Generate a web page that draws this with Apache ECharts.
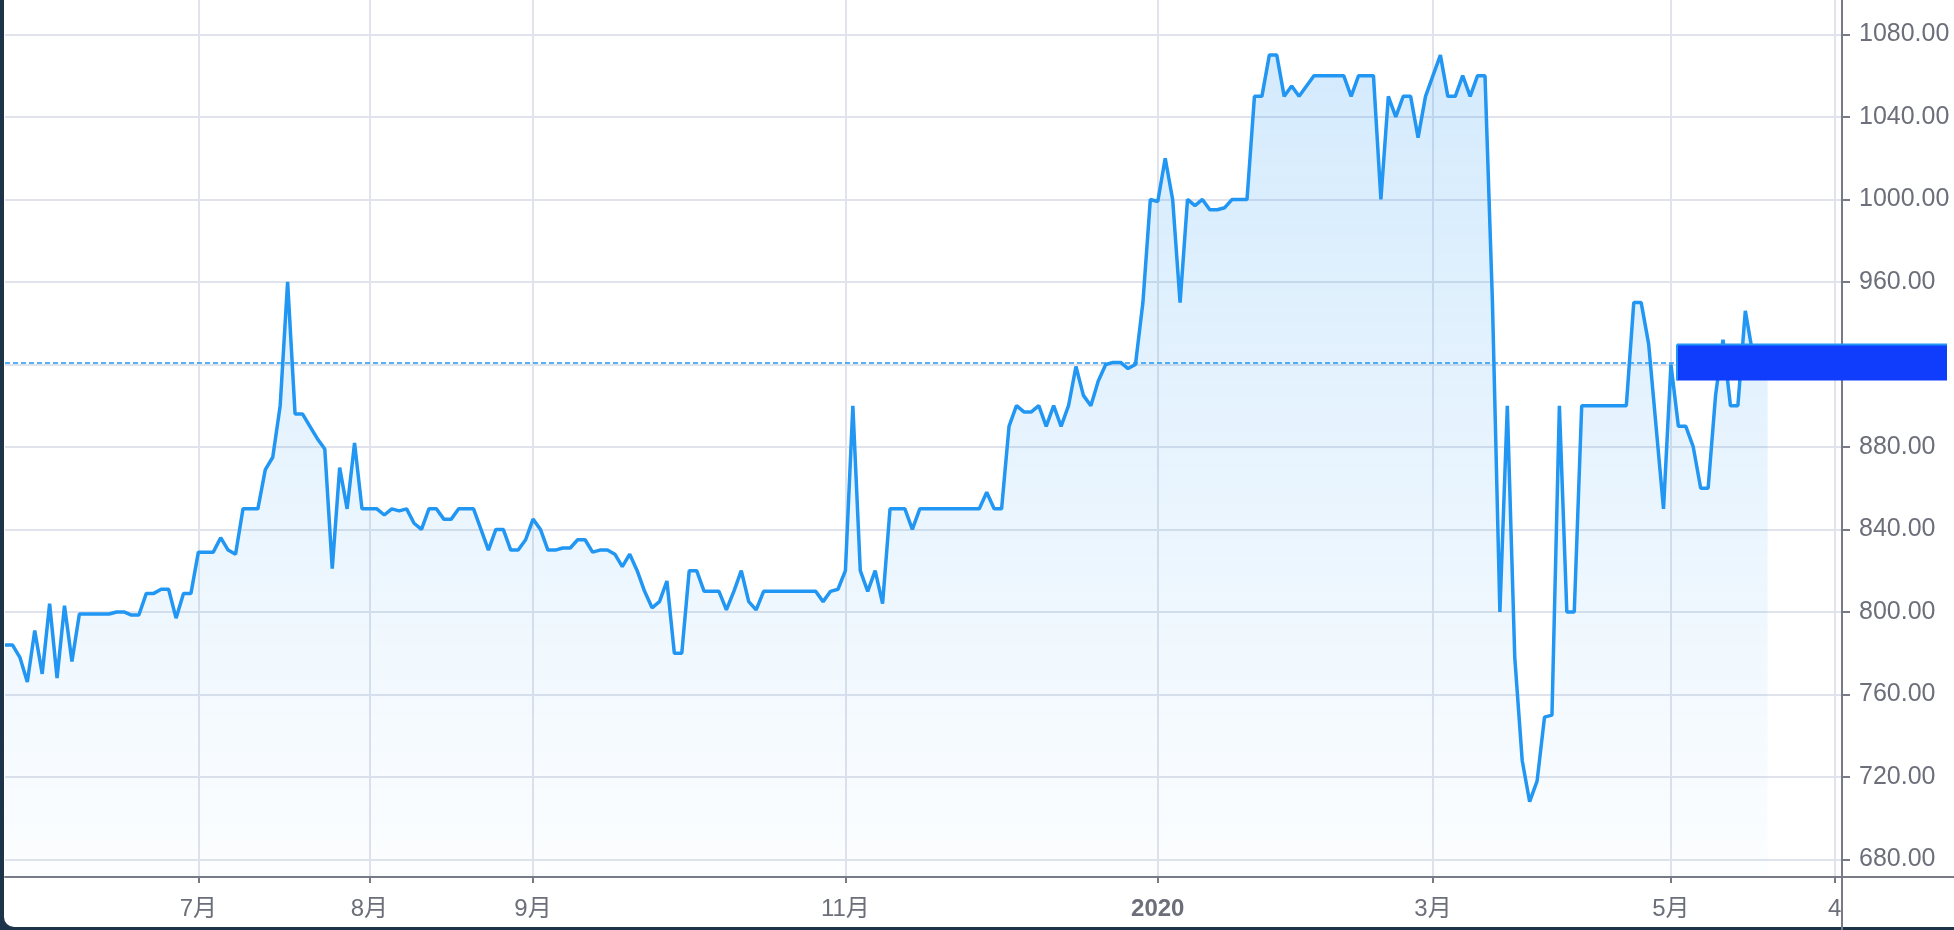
<!DOCTYPE html>
<html><head><meta charset="utf-8">
<script src="https://cdn.jsdelivr.net/npm/echarts@6/dist/echarts.min.js"></script>
<style>
html,body{margin:0;padding:0;width:1954px;height:930px;overflow:hidden;background:#1c3349;}
#panel{position:absolute;left:4px;top:0;width:1950px;height:927px;background:#fff;border-bottom-left-radius:10px;}
#chart{position:absolute;left:0;top:0;width:1954px;height:930px;}
</style></head><body>
<div id="panel"></div><div id="chart"></div>
<script>
// ---- data ----
const prices = [
  784,784,778,766,791,770,804,768,803,776,
  799,799,799,799,799,800,800,798.5,798.5,809,
  809,811,811,797,809,809,829,829,829,836,
  830,828,850,850,850,869,875,900,960,896,
  896,890,884,879,821,870,850,882,850,850,
  850,847,850,849,850,843,840,850,850,845,
  845,850,850,850,840,830,840,840,830,830,
  835,845,840,830,830,831,831,835,835,829,
  830,830,828,822,828,820,810,802,805,815,
  780,780,820,820,810,810,810,801,810,820,
  805,801,810,810,810,810,810,810,810,810,
  805,810,811,820,900,820,810,820,804,850,
  850,850,840,850,850,850,850,850,850,850,
  850,850,858,850,850,890,900,897,897,900,
  890,900,890,900,919,905,900,912,920,921,
  921,918,920,950,1000,999,1020,1000,950,1000,
  997,1000,995,995,996,1000,1000,1000,1050,1050,
  1070,1070,1050,1055,1050,1055,1060,1060,1060,1060,
  1060,1050,1060,1060,1060,1000,1050,1040,1050,1050,
  1030,1050,1060,1070,1050,1050,1060,1050,1060,1060,
  950,800,900,778,728,708,718,749,750,900,
  800,800,900,900,900,900,900,900,900,950,
  950,930,890,850,920,890,890,880,860,860,
  905,932,900,900,946,925,921,921
];
const slotCount = 248;                       // number of bar slots on the time scale
const tickIndex = [26, 49, 71, 113, 155, 192, 224, 246];
const tickLabels = ['7月', '8月', '9月', '11月', '2020', '3月', '5月', '4'];
const yTicks = [680, 720, 760, 800, 840, 880, 920, 960, 1000, 1040, 1080];
const yMin = 671.5, yMax = 1096.7;
const lastPrice = 921;

// ---- chart ----
const categories = Array.from({length: slotCount}, (_, i) => String(i));
const labelAt = {};
tickIndex.forEach((k, i) => { labelAt[k] = tickLabels[i]; });
const isTick = (i) => Object.prototype.hasOwnProperty.call(labelAt, i);

const FONT = "'Liberation Sans', 'Noto Sans CJK SC', sans-serif";
const AXIS = '#787b86';
const TEXT = '#6c6f7a';
const GRID = '#e0e3eb';
const LINE = '#2196f3';
const W = 1954, H = 930;
const G = {left: 5, right: 112, top: 0, bottom: 53};

const chart = echarts.init(document.getElementById('chart'), null, {renderer: 'canvas'});
chart.setOption({
  animation: false,
  backgroundColor: 'transparent',
  grid: {left: G.left, right: G.right, top: G.top, bottom: G.bottom, containLabel: false},
  xAxis: {
    type: 'category', data: categories, boundaryGap: false,
    axisLine: {show: true, lineStyle: {color: AXIS, width: 2}},
    axisTick: {show: true, interval: (i) => isTick(i), length: 6, lineStyle: {color: AXIS, width: 2}},
    axisLabel: {
      interval: (i) => isTick(i),
      formatter: (v, i) => {
        const t = labelAt[i];
        if (t === undefined) return '';
        return /^\d{4}$/.test(t) ? '{b|' + t + '}' : t;
      },
      color: TEXT, fontSize: 24, fontFamily: FONT, margin: 20,
      rich: {b: {fontWeight: 'bold', fontSize: 24, color: TEXT, fontFamily: FONT}}
    },
    splitLine: {show: true, interval: (i) => isTick(i), lineStyle: {color: GRID, width: 2}}
  },
  yAxis: {
    type: 'value', position: 'right', min: yMin, max: yMax,
    axisLine: {show: true, lineStyle: {color: AXIS, width: 2}},
    axisTick: {show: true, length: 8, customValues: yTicks, lineStyle: {color: AXIS, width: 2}},
    axisLabel: {customValues: yTicks, formatter: (v) => Number(v).toFixed(2), color: TEXT,
      fontSize: 25, fontFamily: FONT, margin: 17},
    splitLine: {show: true, lineStyle: {color: GRID, width: 2}}
  },
  series: [{
    type: 'line', data: prices, symbol: 'none', showSymbol: false,
    lineStyle: {color: LINE, width: 3.5}, itemStyle: {color: LINE},
    areaStyle: {origin: 'start', color: new echarts.graphic.LinearGradient(0, 0, 0, 1, [
      {offset: 0, color: 'rgba(33,150,243,0.28)'},
      {offset: 1, color: 'rgba(33,150,243,0.02)'}
    ])},
    markLine: {silent: true, symbol: 'none', label: {show: false},
      lineStyle: {color: LINE, type: [5, 3], width: 1.5}, data: [{yAxis: lastPrice}]}
  }]
});

// decorations: axis extensions and last-price box
const axisX = W - G.right, axisY = H - G.bottom;
const py = chart.convertToPixel({yAxisIndex: 0}, lastPrice);
chart.setOption({
  graphic: [
    {type: 'line', z: 50, shape: {x1: axisX, y1: axisY, x2: axisX, y2: H}, style: {stroke: AXIS, lineWidth: 2}},
    {type: 'line', z: 50, shape: {x1: axisX, y1: axisY, x2: W, y2: axisY}, style: {stroke: AXIS, lineWidth: 2}},
    {type: 'rect', z: 100, shape: {x: 1677, y: py - 18, width: 270, height: 36}, style: {fill: '#0f3dfb'}},
    {type: 'line', z: 101, shape: {x1: 1677, y1: py - 18, x2: 1947, y2: py - 18}, style: {stroke: LINE, lineWidth: 2}},
    {type: 'line', z: 101, shape: {x1: 1677, y1: py - 18, x2: 1677, y2: py + 18}, style: {stroke: LINE, lineWidth: 2}}
  ]
});
</script>
</body></html>
